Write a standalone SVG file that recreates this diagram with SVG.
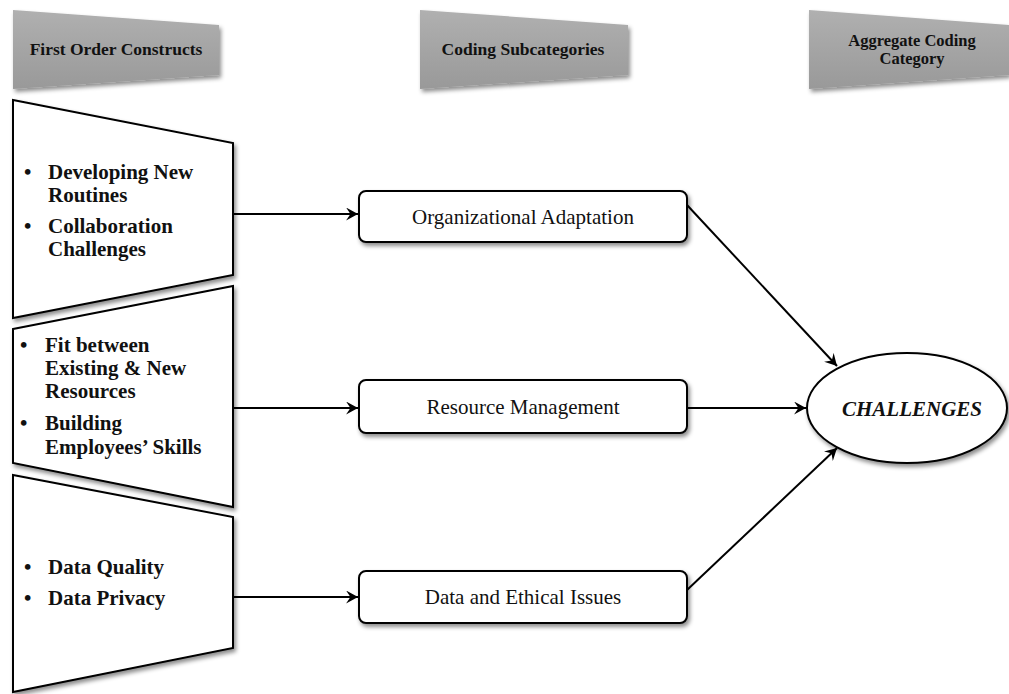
<svg xmlns="http://www.w3.org/2000/svg" width="1009" height="694" viewBox="0 0 1009 694">
<defs>
  <linearGradient id="hdr" x1="0" y1="0" x2="0" y2="1">
    <stop offset="0" stop-color="#b0b0b0"/>
    <stop offset="1" stop-color="#999999"/>
  </linearGradient>
  <filter id="sh" x="-10%" y="-10%" width="125%" height="130%">
    <feDropShadow dx="2" dy="3" stdDeviation="2" flood-color="#000" flood-opacity="0.45"/>
  </filter>
  <marker id="arr" viewBox="0 0 12 12" refX="11" refY="6" markerWidth="13" markerHeight="13" markerUnits="userSpaceOnUse" orient="auto">
    <path d="M0,0 L11,6 L0,12 L4,6 Z" fill="#000"/>
  </marker>
  <style>
    .hdr{fill:url(#hdr);filter:url(#sh);}
    .hdrt{font-family:"Liberation Serif",serif;font-weight:bold;font-size:17.5px;fill:#111;text-anchor:middle;}
    .hdrs{font-family:"Liberation Serif",serif;font-weight:bold;font-size:16.5px;fill:#111;text-anchor:middle;}
    .trap{fill:#fff;stroke:#000;stroke-width:2;filter:url(#sh);}
    .bt{font-family:"Liberation Serif",serif;font-weight:bold;font-size:21px;fill:#111;}
    .box{fill:#fff;stroke:#000;stroke-width:2;filter:url(#sh);}
    .boxt{font-family:"Liberation Serif",serif;font-size:21px;fill:#111;text-anchor:middle;}
    .conn{stroke:#000;stroke-width:2;fill:none;marker-end:url(#arr);}
  </style>
</defs>
<rect width="1009" height="694" fill="#fff"/>

<g id="header-first-order">
  <polygon class="hdr" points="13,10 219,25 219,75 13,89"/>
  <text class="hdrt" x="116" y="55">First Order Constructs</text>
</g>
<g id="header-coding-sub">
  <polygon class="hdr" points="420,10 628,25 628,75 420,89"/>
  <text class="hdrt" x="523" y="55">Coding Subcategories</text>
</g>
<g id="header-aggregate">
  <polygon class="hdr" points="809,10 1009,25 1009,75 809,89"/>
  <text class="hdrs" x="912" y="46">Aggregate Coding</text>
  <text class="hdrs" x="912" y="64">Category</text>
</g>

<g id="construct-1">
  <polygon class="trap" points="13,100 233,143 233,275 13,318"/>
  <text class="bt" x="24" y="179">•</text>
  <text class="bt" x="48" y="179">Developing New</text>
  <text class="bt" x="48" y="202">Routines</text>
  <text class="bt" x="24" y="233">•</text>
  <text class="bt" x="48" y="233">Collaboration</text>
  <text class="bt" x="48" y="256">Challenges</text>
</g>
<g id="construct-2">
  <polygon class="trap" points="13,329 233,286 233,507 13,463"/>
  <text class="bt" x="20" y="352">•</text>
  <text class="bt" x="45" y="352">Fit between</text>
  <text class="bt" x="45" y="375">Existing &amp; New</text>
  <text class="bt" x="45" y="398">Resources</text>
  <text class="bt" x="20" y="430">•</text>
  <text class="bt" x="45" y="430">Building</text>
  <text class="bt" x="45" y="454">Employees’ Skills</text>
</g>
<g id="construct-3">
  <polygon class="trap" points="13,475 233,517 233,648 13,692"/>
  <text class="bt" x="24" y="574">•</text>
  <text class="bt" x="48" y="574">Data Quality</text>
  <text class="bt" x="24" y="605">•</text>
  <text class="bt" x="48" y="605">Data Privacy</text>
</g>

<g id="sub-org">
  <rect class="box" x="359" y="191" width="328" height="51" rx="7"/>
  <text class="boxt" x="523" y="224">Organizational Adaptation</text>
</g>
<g id="sub-resource">
  <rect class="box" x="359" y="380" width="328" height="53" rx="7"/>
  <text class="boxt" x="523" y="414">Resource Management</text>
</g>
<g id="sub-data">
  <rect class="box" x="359" y="571" width="328" height="52" rx="7"/>
  <text class="boxt" x="523" y="604">Data and Ethical Issues</text>
</g>

<g id="agg-challenges">
  <ellipse class="box" cx="907" cy="408" rx="100" ry="55"/>
  <text x="912" y="416" font-family="Liberation Serif, serif" font-weight="bold" font-style="italic" font-size="21" fill="#111" text-anchor="middle">CHALLENGES</text>
</g>

<g id="connectors">
  <line class="conn" x1="233" y1="214" x2="358" y2="214"/>
  <line class="conn" x1="233" y1="408" x2="358" y2="408"/>
  <line class="conn" x1="233" y1="597" x2="358" y2="597"/>
  <line class="conn" x1="687" y1="205" x2="837" y2="366"/>
  <line class="conn" x1="687" y1="408" x2="806" y2="408"/>
  <line class="conn" x1="687" y1="590" x2="837" y2="448"/>
</g>
</svg>
